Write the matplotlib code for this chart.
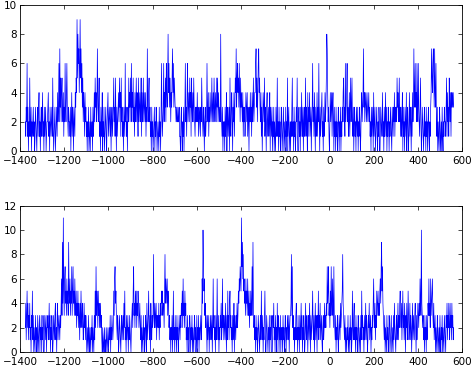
import numpy as np
import matplotlib
matplotlib.use("Agg")
import matplotlib.pyplot as plt

# counts, one hex digit per sample (a=10, b=11),
# samples every 2 units starting at x=-1376, one string per 100 units
x_start = -1376
x_step = 2

top_counts = [
    "2132613021" "5213021231" "2013210231" "3412023124" "1203123012",
    "2341203212" "3152012301" "2314236273" "5245324132" "6324632132",
    "2130241320" "3214354958" "6746957463" "5243142312" "0213012031",
    "1203124253" "4237423512" "0312402130" "1231023412" "3213023123",
    "5231520312" "3425341523" "1203216231" "2032534253" "6243523142",
    "3524315234" "2351423524" "3241327324" "5231203120" "1230213201",
    "2103120263" "1236243526" "4358463542" "4357463543" "3232232231",
    "1023102130" "2362314623" "4253415324" "2532132324" "2312321325",
    "3213202312" "2632413243" "2352342532" "4325352432" "3283213021",
    "2031240231" "2305213420" "3241354735" "6453642534" "3241323124",
    "3241320324" "2314235234" "4673524674" "5324130243" "2513203412",
    "3124032130" "2130210312" "5120312013" "2012302103" "1205123012",
    "0213512031" "2013251023" "1203142130" "2312513204" "1324123023",
    "6231420312" "4132620312" "3412031242" "3587423102" "4234134203",
    "1203120132" "0213021324" "5231623462" "3124135235" "2130231203",
    "2130213201" "3423473423" "4324323423" "1203123041" "2301231021",
    "3201321241" "2031241302" "1320213210" "3213241323" "2534235231",
    "3124031203" "2140231024" "1320314237" "3463426326" "3213520132",
    "1023120312" "0231021347" "5467537436" "2130210320" "1203102132",
    "2135142315" "3241434343",
]

bottom_counts = [
    "2413524132" "4120325130" "2103120130" "1230213021" "3201321302",
    "2312413021" "3201321341" "2034123213" "246394b536" "7453645395",
    "4635473574" "5364352435" "2431425324" "3124231320" "1203102102",
    "1302103152" "7354253423" "4231021012" "0102101201" "2130213212",
    "5367453213" "2013210231" "2314251203" "1230213210" "2342573425",
    "3524354234" "2130210312" "0132041235" "2130421323" "8324324132",
    "3241324354" "5344258465" "4635423120" "2130251203" "1203120132",
    "1324352634" "2534120312" "0132021302" "1023120130" "2130212312",
    "64a7563423" "2031230213" "2130262312" "0312621302" "1324126231",
    "2314203152" "3145231203" "1240321324" "235465765b" "7968564536",
    "4536435243" "5347394231" "2031201321" "0231521302" "1352013210",
    "2130213201" "3241203120" "4132021302" "1203120132" "0213213023",
    "3483723120" "2134120312" "0312413021" "3201421320" "2314203123",
    "5213024132" "0325132412" "3102312423" "2437457342" "5374364273",
    "2130213201" "3214234584" "3213021021" "3012031201" "5213412031",
    "2013201203" "1523120312" "4132013241" "2302132463" "2413253453",
    "4356479574" "3213021031" "2013201230" "1203142102" "3124132453",
    "2413523142" "0324125312" "4132024132" "1342031243" "243643a432",
    "3120312031" "2436342634" "5632412302" "1032012031" "0213021032",
    "1032413242" "1423142312",
]

x_ticks = list(range(-1400, 601, 200))
top_yticks = [0, 2, 4, 6, 8, 10]
bottom_yticks = [0, 2, 4, 6, 8, 10, 12]


def decode(blocks):
    return np.array([int(c, 16) for c in "".join(blocks)])


y_top = decode(top_counts)
y_bot = decode(bottom_counts)
x_top = x_start + x_step * np.arange(len(y_top))
x_bot = x_start + x_step * np.arange(len(y_bot))

plt.rcParams["font.family"] = ["DejaVu Sans"]
plt.rcParams["font.size"] = 7.5

fig = plt.figure(figsize=(4.71, 3.67), dpi=100)
ax1 = fig.add_axes([0.0425, 0.5886, 0.9385, 0.3978])
ax2 = fig.add_axes([0.0425, 0.0409, 0.9385, 0.3986])

for ax, x, y, yt in [(ax1, x_top, y_top, top_yticks), (ax2, x_bot, y_bot, bottom_yticks)]:
    ax.plot(x, y, color="#0000ff", linewidth=0.5)
    ax.set_xlim(-1400, 600)
    ax.set_ylim(yt[0], yt[-1])
    ax.set_xticks(x_ticks)
    ax.set_yticks(yt)
    ax.set_xticklabels([str(t).replace("-", "\u2212") for t in x_ticks])
    ax.tick_params(direction="in", length=3, width=0.5, top=True, right=True)
    ax.tick_params(axis="x", pad=3.5)
    ax.tick_params(axis="y", pad=2)
    for s in ax.spines.values():
        s.set_linewidth(0.6)

fig.savefig("out.png", dpi=100)
